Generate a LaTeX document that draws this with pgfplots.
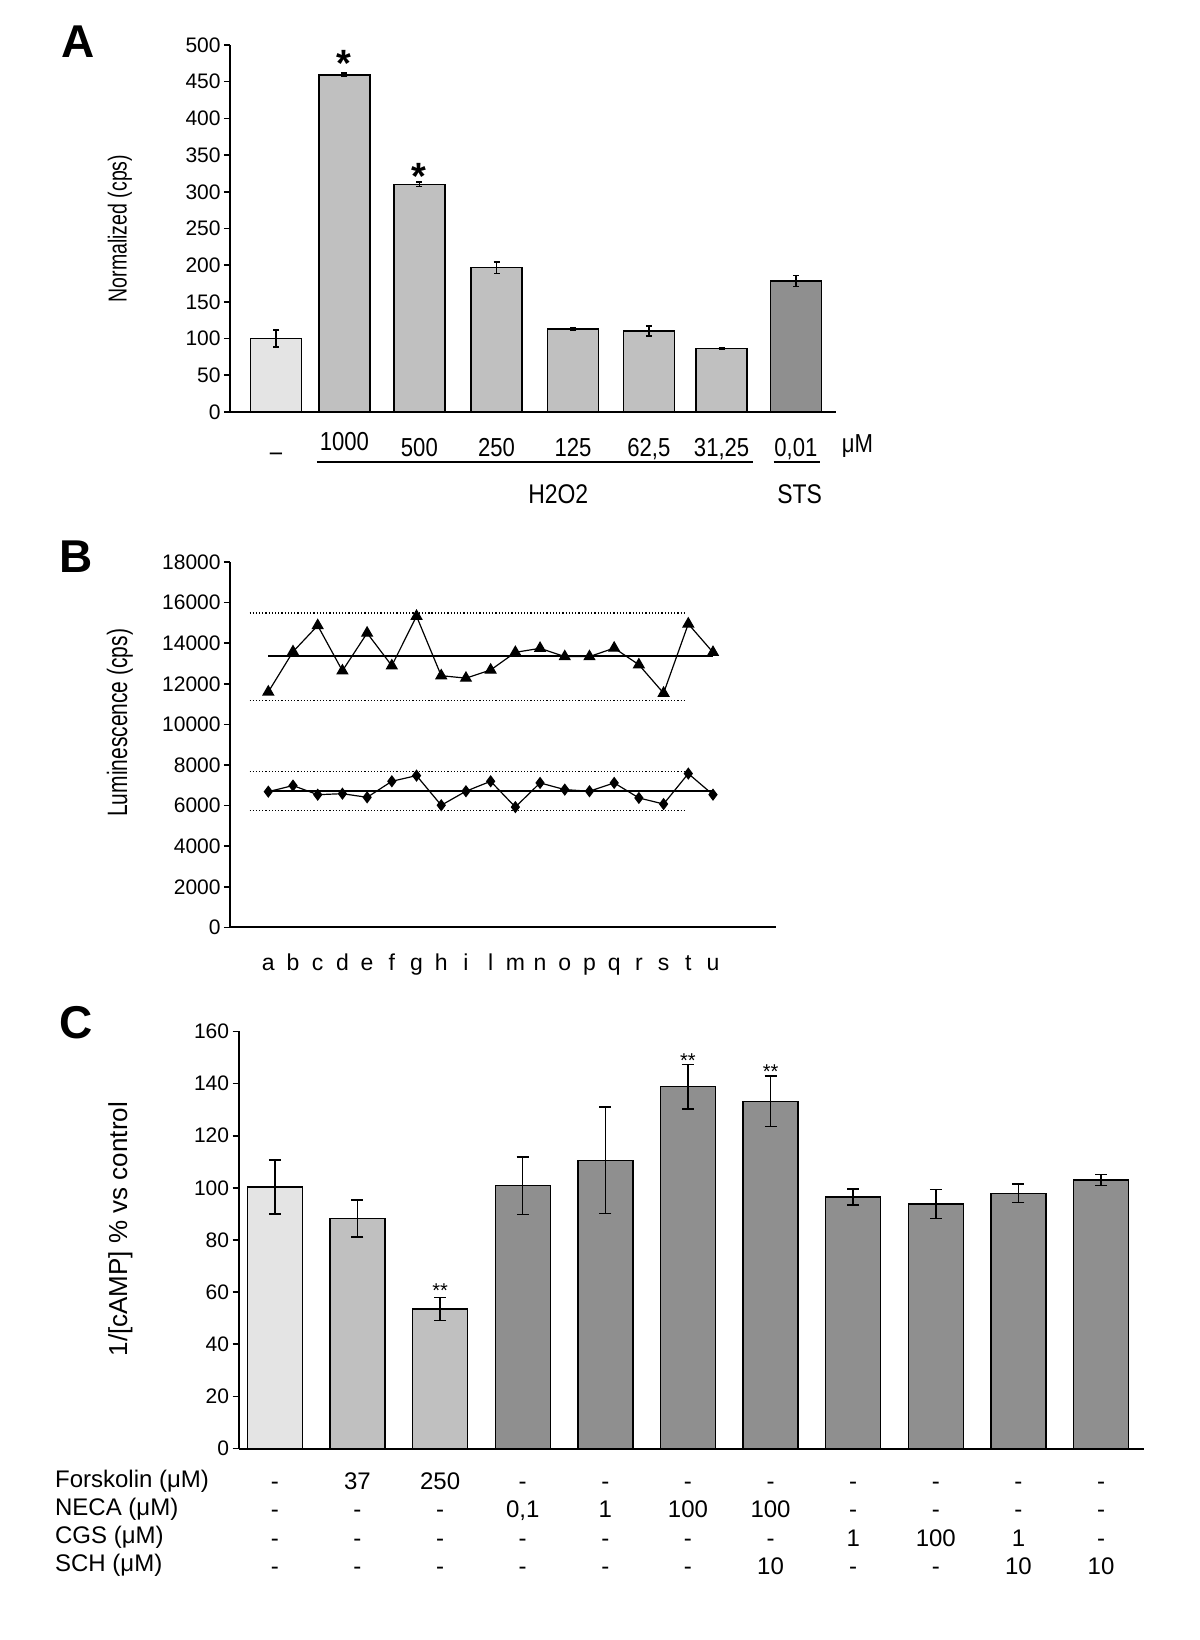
\documentclass[border=0pt]{standalone}
\usepackage{fontspec}
\setmainfont{Liberation Sans}
\newfontfamily\condensed[FakeStretch=0.85]{Liberation Sans}
\newfontfamily\narrowlabel[FakeStretch=0.75]{Liberation Sans}
\usepackage{pgfplots}
\pgfplotsset{compat=1.18}

\definecolor{lgray}{HTML}{E4E4E4}
\definecolor{mgray}{HTML}{C0C0C0}
\definecolor{dgray}{HTML}{8F8F8F}

\newcommand\tc[4]{\strut#1\\\strut#2\\\strut#3\\\strut#4}

\pgfplotsset{
  panel/.style={
    scale only axis, anchor=south west, clip=false,
    axis lines=left, axis line style={-, line width=1bp},
    ymin=0,
    tick align=outside, major tick length=3bp,
    ytick style={black, line width=0.8bp},
    xtick style={draw=none},
    yticklabel style={font=\fontsize{10.5bp}{12bp}\selectfont, inner sep=1.5bp},
    /pgf/number format/assume math mode=true,
    /pgf/number format/1000 sep={},
    scaled y ticks=false,
  },
  bars/.style={ybar, bar shift=0pt, draw=black, line width=0.7bp,
    error bars/y dir=both, error bars/y explicit,
    error bars/error bar style={black, line width=0.7bp},
    error bars/error mark options={rotate=90, black, line width=0.7bp, mark size=#1}},
}

\begin{document}
\begin{tikzpicture}
\path[use as bounding box] (0,0) rectangle (600bp,820bp);

% ---------------- A
\node[font=\fontsize{23bp}{26bp}\selectfont\bfseries] at (39bp,799bp) {A};
\begin{axis}[panel, at={(115bp,614bp)}, width=303bp, height=183.5bp,
  xmin=0.38, xmax=8.54, ymax=500, ytick={0,50,...,500},
  xtick={1,1.92,2.93,3.97,5.0,6.02,7.0,8.0},
  xticklabels={\raisebox{-2.3bp}{–},\raisebox{2.6bp}{1000},500,250,125,{62,5},{31,25},{0,01}},
  xticklabel style={anchor=center, yshift=-14.4bp, text height=9.3bp, text depth=0bp,
    font=\condensed\fontsize{13bp}{15bp}\selectfont}]
\addplot[bars=1.5bp, fill=lgray, bar width=25.5bp] coordinates {(1,100) +- (0,11.5)};
\addplot[bars=1.5bp, fill=mgray, bar width=25.5bp] coordinates {
  (1.92,459.3) +- (0,2.5)
  (2.93,310.3) +- (0,3)
  (3.97,196.5) +- (0,8)
  (5.0,113)    +- (0,1.5)
  (6.02,110.2) +- (0,6.8)
  (7.0,86.3)   +- (0,1)
};
\addplot[bars=1.5bp, fill=dgray, bar width=25.5bp] coordinates {(8,178.5) +- (0,7.7)};
\node[anchor=base, font=\fontsize{19bp}{21bp}\selectfont\bfseries] at ([yshift=-8.5bp]axis cs:1.92,480) {*};
\node[anchor=base, font=\fontsize{19bp}{21bp}\selectfont\bfseries] at ([yshift=-9bp]axis cs:2.93,328) {*};
\draw[line width=0.9bp] ([yshift=-25bp]axis cs:1.55,0) -- ([yshift=-25bp]axis cs:7.42,0);
\draw[line width=0.9bp] ([yshift=-25bp]axis cs:7.70,0) -- ([yshift=-25bp]axis cs:8.32,0);
\node[font=\condensed\fontsize{13.5bp}{15bp}\selectfont] at ([yshift=-41bp]axis cs:4.8,0) {H2O2};
\node[font=\condensed\fontsize{13.5bp}{15bp}\selectfont] at ([yshift=-41bp]axis cs:8.05,0) {STS};
\node[font=\condensed\fontsize{13bp}{15bp}\selectfont] at ([yshift=-17bp]axis cs:8.83,0) {μM};
\node[rotate=90, font=\narrowlabel\fontsize{13bp}{15bp}\selectfont] at ([xshift=-55bp]axis description cs:0,0.5) {Normalized (cps)};
\end{axis}

% ---------------- B
\node[font=\fontsize{23bp}{26bp}\selectfont\bfseries] at (38bp,541.5bp) {B};
\begin{axis}[panel, at={(115bp,356.25bp)}, width=273bp, height=182.75bp,
  xmin=-1.55, xmax=20.55, ymax=18000, ytick={0,2000,...,18000},
  xtick={0,...,18},
  xticklabels={a,b,c,d,e,f,g,h,i,l,m,n,o,p,q,r,s,t,u},
  xticklabel style={anchor=center, yshift=-14.75bp, text height=8bp, text depth=0bp,
    font=\fontsize{11.5bp}{13bp}\selectfont}]
\addplot[black, line width=0.6bp, mark=triangle*, mark size=3bp] coordinates {
  (0,11600) (1,13580) (2,14870) (3,12640) (4,14500) (5,12890) (6,15330)
  (7,12400) (8,12280) (9,12680) (10,13550) (11,13750) (12,13340) (13,13340)
  (14,13760) (15,12940) (16,11540) (17,14950) (18,13550)
};
\addplot[black, line width=0.6bp, mark=diamond*, mark size=2.6bp] coordinates {
  (0,6690) (1,6990) (2,6540) (3,6590) (4,6410) (5,7200) (6,7480)
  (7,6020) (8,6710) (9,7200) (10,5930) (11,7120) (12,6790) (13,6710)
  (14,7120) (15,6380) (16,6080) (17,7580) (18,6540)
};
\addplot[black, line width=0.8bp] coordinates {(0,13370) (18,13370)};
\addplot[black, line width=0.8bp] coordinates {(0,6710) (18,6710)};
\addplot[black, line width=0.6bp, densely dotted] coordinates {(-0.76,15490) (16.9,15490)};
\addplot[black, line width=0.6bp, densely dotted] coordinates {(-0.76,11160) (16.9,11160)};
\addplot[black, line width=0.6bp, densely dotted] coordinates {(-0.76,7700) (16.9,7700)};
\addplot[black, line width=0.6bp, densely dotted] coordinates {(-0.76,5750) (16.9,5750)};
\node[rotate=90, font=\narrowlabel\fontsize{14bp}{16bp}\selectfont] at ([xshift=-55bp]axis description cs:0,0.56) {Luminescence (cps)};
\end{axis}

% ---------------- C
\node[font=\fontsize{23bp}{26bp}\selectfont\bfseries] at (38bp,308.5bp) {C};
\begin{axis}[panel, at={(119.25bp,95.75bp)}, width=452.75bp, height=208.5bp,
  xmin=0.56, xmax=11.52, ymax=160, ytick={0,20,...,160},
  xtick={1,...,11},
  xticklabels={\tc{-}{-}{-}{-},\tc{37}{-}{-}{-},\tc{250}{-}{-}{-},\tc{-}{0,1}{-}{-},
    \tc{-}{1}{-}{-},\tc{-}{100}{-}{-},\tc{-}{100}{-}{10},\tc{-}{-}{1}{-},
    \tc{-}{-}{100}{-},\tc{-}{-}{1}{10},\tc{-}{-}{-}{10}},
  xticklabel style={anchor=north, align=center, yshift=-4.2bp,
    font=\fontsize{12bp}{14.1bp}\selectfont}]
\addplot[bars=3bp, fill=lgray, bar width=27.5bp] coordinates {(1,100.3) +- (0,10.4)};
\addplot[bars=3bp, fill=mgray, bar width=27.5bp] coordinates {
  (2,88.2) +- (0,7.1)
  (3,53.5) +- (0,4.5)
};
\addplot[bars=3bp, fill=dgray, bar width=27.5bp] coordinates {
  (4,100.8)  +- (0,11)
  (5,110.6)  +- (0,20.5)
  (6,138.8)  +- (0,8.6)
  (7,133.2)  +- (0,9.7)
  (8,96.5)   +- (0,3)
  (9,93.8)   +- (0,5.5)
  (10,97.9)  +- (0,3.6)
  (11,103)   +- (0,2.2)
};
\node[anchor=base, font=\fontsize{10bp}{12bp}\selectfont] at ([yshift=-5.8bp]axis cs:3,62.3) {**};
\node[anchor=base, font=\fontsize{10bp}{12bp}\selectfont] at ([yshift=-5.8bp]axis cs:6,150.6) {**};
\node[anchor=base, font=\fontsize{10bp}{12bp}\selectfont] at ([yshift=-5.8bp]axis cs:7,146.5) {**};
\node[rotate=90, font=\fontsize{13bp}{15bp}\selectfont] at ([xshift=-59bp]axis description cs:0,0.526) {1/[cAMP] \% vs control};
\node[anchor=base west, font=\fontsize{12bp}{14bp}\selectfont] at ([xshift=-95.2bp, yshift=-19.25bp]axis description cs:0,0) {Forskolin (μM)};
\node[anchor=base west, font=\fontsize{12bp}{14bp}\selectfont] at ([xshift=-95.2bp, yshift=-33.35bp]axis description cs:0,0) {NECA (μM)};
\node[anchor=base west, font=\fontsize{12bp}{14bp}\selectfont] at ([xshift=-95.2bp, yshift=-47.45bp]axis description cs:0,0) {CGS (μM)};
\node[anchor=base west, font=\fontsize{12bp}{14bp}\selectfont] at ([xshift=-95.2bp, yshift=-61.55bp]axis description cs:0,0) {SCH (μM)};
\end{axis}
\end{tikzpicture}
\end{document}
